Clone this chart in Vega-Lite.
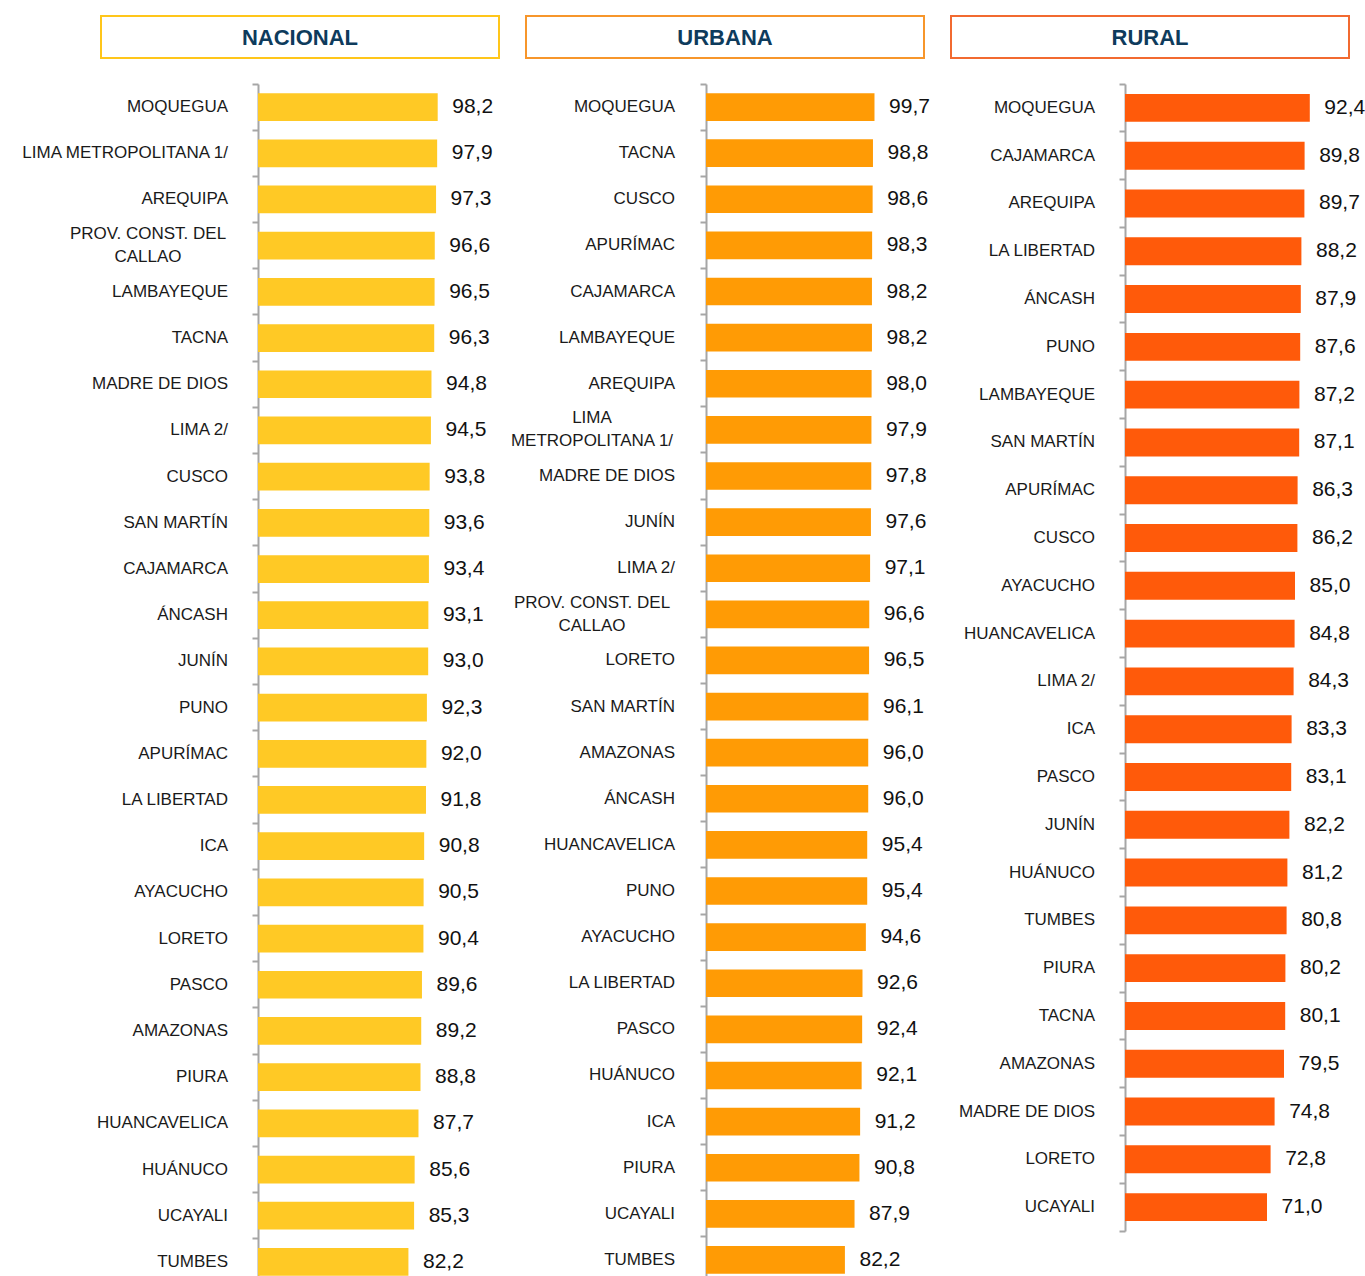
{
  "$schema": "https://vega.github.io/schema/vega-lite/v6.json",
  "padding": {"left": 20, "top": 15, "right": 5, "bottom": 0},
  "config": {
    "view": {"stroke": null},
    "locale": {"number": {"decimal": ",", "thousands": ".", "grouping": [3], "currency": ["", ""]}},
    "text": {"font": "Liberation Sans"}
  },
  "datasets": {
    "nacional": [
      {"dep": "MOQUEGUA", "label": "MOQUEGUA", "valor": 98.2},
      {"dep": "LIMA METROPOLITANA 1/", "label": "LIMA METROPOLITANA 1/", "valor": 97.9},
      {"dep": "AREQUIPA", "label": "AREQUIPA", "valor": 97.3},
      {"dep": "PROV. CONST. DEL CALLAO", "label": "PROV. CONST. DEL\nCALLAO", "valor": 96.6},
      {"dep": "LAMBAYEQUE", "label": "LAMBAYEQUE", "valor": 96.5},
      {"dep": "TACNA", "label": "TACNA", "valor": 96.3},
      {"dep": "MADRE DE DIOS", "label": "MADRE DE DIOS", "valor": 94.8},
      {"dep": "LIMA 2/", "label": "LIMA 2/", "valor": 94.5},
      {"dep": "CUSCO", "label": "CUSCO", "valor": 93.8},
      {"dep": "SAN MARTÍN", "label": "SAN MARTÍN", "valor": 93.6},
      {"dep": "CAJAMARCA", "label": "CAJAMARCA", "valor": 93.4},
      {"dep": "ÁNCASH", "label": "ÁNCASH", "valor": 93.1},
      {"dep": "JUNÍN", "label": "JUNÍN", "valor": 93.0},
      {"dep": "PUNO", "label": "PUNO", "valor": 92.3},
      {"dep": "APURÍMAC", "label": "APURÍMAC", "valor": 92.0},
      {"dep": "LA LIBERTAD", "label": "LA LIBERTAD", "valor": 91.8},
      {"dep": "ICA", "label": "ICA", "valor": 90.8},
      {"dep": "AYACUCHO", "label": "AYACUCHO", "valor": 90.5},
      {"dep": "LORETO", "label": "LORETO", "valor": 90.4},
      {"dep": "PASCO", "label": "PASCO", "valor": 89.6},
      {"dep": "AMAZONAS", "label": "AMAZONAS", "valor": 89.2},
      {"dep": "PIURA", "label": "PIURA", "valor": 88.8},
      {"dep": "HUANCAVELICA", "label": "HUANCAVELICA", "valor": 87.7},
      {"dep": "HUÁNUCO", "label": "HUÁNUCO", "valor": 85.6},
      {"dep": "UCAYALI", "label": "UCAYALI", "valor": 85.3},
      {"dep": "TUMBES", "label": "TUMBES", "valor": 82.2}
    ],
    "urbana": [
      {"dep": "MOQUEGUA", "label": "MOQUEGUA", "valor": 99.7},
      {"dep": "TACNA", "label": "TACNA", "valor": 98.8},
      {"dep": "CUSCO", "label": "CUSCO", "valor": 98.6},
      {"dep": "APURÍMAC", "label": "APURÍMAC", "valor": 98.3},
      {"dep": "CAJAMARCA", "label": "CAJAMARCA", "valor": 98.2},
      {"dep": "LAMBAYEQUE", "label": "LAMBAYEQUE", "valor": 98.2},
      {"dep": "AREQUIPA", "label": "AREQUIPA", "valor": 98.0},
      {"dep": "LIMA METROPOLITANA 1/", "label": "LIMA\nMETROPOLITANA 1/", "valor": 97.9},
      {"dep": "MADRE DE DIOS", "label": "MADRE DE DIOS", "valor": 97.8},
      {"dep": "JUNÍN", "label": "JUNÍN", "valor": 97.6},
      {"dep": "LIMA 2/", "label": "LIMA 2/", "valor": 97.1},
      {"dep": "PROV. CONST. DEL CALLAO", "label": "PROV. CONST. DEL\nCALLAO", "valor": 96.6},
      {"dep": "LORETO", "label": "LORETO", "valor": 96.5},
      {"dep": "SAN MARTÍN", "label": "SAN MARTÍN", "valor": 96.1},
      {"dep": "AMAZONAS", "label": "AMAZONAS", "valor": 96.0},
      {"dep": "ÁNCASH", "label": "ÁNCASH", "valor": 96.0},
      {"dep": "HUANCAVELICA", "label": "HUANCAVELICA", "valor": 95.4},
      {"dep": "PUNO", "label": "PUNO", "valor": 95.4},
      {"dep": "AYACUCHO", "label": "AYACUCHO", "valor": 94.6},
      {"dep": "LA LIBERTAD", "label": "LA LIBERTAD", "valor": 92.6},
      {"dep": "PASCO", "label": "PASCO", "valor": 92.4},
      {"dep": "HUÁNUCO", "label": "HUÁNUCO", "valor": 92.1},
      {"dep": "ICA", "label": "ICA", "valor": 91.2},
      {"dep": "PIURA", "label": "PIURA", "valor": 90.8},
      {"dep": "UCAYALI", "label": "UCAYALI", "valor": 87.9},
      {"dep": "TUMBES", "label": "TUMBES", "valor": 82.2}
    ],
    "rural": [
      {"dep": "MOQUEGUA", "label": "MOQUEGUA", "valor": 92.4},
      {"dep": "CAJAMARCA", "label": "CAJAMARCA", "valor": 89.8},
      {"dep": "AREQUIPA", "label": "AREQUIPA", "valor": 89.7},
      {"dep": "LA LIBERTAD", "label": "LA LIBERTAD", "valor": 88.2},
      {"dep": "ÁNCASH", "label": "ÁNCASH", "valor": 87.9},
      {"dep": "PUNO", "label": "PUNO", "valor": 87.6},
      {"dep": "LAMBAYEQUE", "label": "LAMBAYEQUE", "valor": 87.2},
      {"dep": "SAN MARTÍN", "label": "SAN MARTÍN", "valor": 87.1},
      {"dep": "APURÍMAC", "label": "APURÍMAC", "valor": 86.3},
      {"dep": "CUSCO", "label": "CUSCO", "valor": 86.2},
      {"dep": "AYACUCHO", "label": "AYACUCHO", "valor": 85.0},
      {"dep": "HUANCAVELICA", "label": "HUANCAVELICA", "valor": 84.8},
      {"dep": "LIMA 2/", "label": "LIMA 2/", "valor": 84.3},
      {"dep": "ICA", "label": "ICA", "valor": 83.3},
      {"dep": "PASCO", "label": "PASCO", "valor": 83.1},
      {"dep": "JUNÍN", "label": "JUNÍN", "valor": 82.2},
      {"dep": "HUÁNUCO", "label": "HUÁNUCO", "valor": 81.2},
      {"dep": "TUMBES", "label": "TUMBES", "valor": 80.8},
      {"dep": "PIURA", "label": "PIURA", "valor": 80.2},
      {"dep": "TACNA", "label": "TACNA", "valor": 80.1},
      {"dep": "AMAZONAS", "label": "AMAZONAS", "valor": 79.5},
      {"dep": "MADRE DE DIOS", "label": "MADRE DE DIOS", "valor": 74.8},
      {"dep": "LORETO", "label": "LORETO", "valor": 72.8},
      {"dep": "UCAYALI", "label": "UCAYALI", "valor": 71.0}
    ]
  },
  "spacing": 20,
  "hconcat": [
    {
      "spacing": 10,
      "hconcat": [
        {
          "spacing": 24,
          "vconcat": [
            {
              "width": 398, "height": 42,
              "view": {"stroke": "#FFC61A", "strokeWidth": 2},
              "data": {"values": [{"t": "NACIONAL"}]},
              "mark": {"type": "text", "font": "Liberation Sans", "fontWeight": "bold", "fontSize": 22, "color": "#0E3B5C", "baseline": "middle", "align": "center", "dy": 1},
              "encoding": {"text": {"field": "t"}}
            },
            {
              "bounds": "flush",
              "spacing": 30,
              "hconcat": [
                {
                  "width": 127, "height": 1201,
                  "data": {"name": "nacional"},
                  "encoding": {
                    "y": {"field": "dep", "type": "nominal", "sort": null, "scale": {"paddingInner": 0, "paddingOuter": 0}, "axis": null},
                    "x": {"value": "width"}
                  },
                  "layer": [
                    {"mark": {"type": "text", "align": "right", "baseline": "middle", "fontSize": 17, "color": "#1A1A1A"},
                     "encoding": {"text": {"condition": {"test": "indexof(datum.label, '\\n') >= 0", "value": ""}, "field": "label"}}},
                    {"mark": {"type": "text", "align": "center", "baseline": "middle", "fontSize": 17, "color": "#1A1A1A", "lineBreak": "\n", "lineHeight": 23, "dx": -80, "dy": -11.5},
                     "encoding": {"text": {"condition": {"test": "indexof(datum.label, '\\n') < 0", "value": ""}, "field": "label"}}}
                  ]
                },
                {
                  "width": 241, "height": 1201,
                  "data": {"name": "nacional"},
                  "encoding": {
                    "y": {"field": "dep", "type": "nominal", "sort": null, "scale": {"paddingInner": 0, "paddingOuter": 0},
                      "axis": {"title": null, "labels": false, "domain": true, "ticks": true, "bandPosition": 1, "tickExtra": true, "domainColor": "#A6A6A6", "tickColor": "#A6A6A6", "domainWidth": 2, "tickWidth": 2, "tickSize": 6, "grid": false}},
                    "x": {"field": "valor", "type": "quantitative", "scale": {"domain": [0, 131.7]}, "axis": null}
                  },
                  "layer": [
                    {"mark": {"type": "bar", "color": "#FFC925", "height": {"band": 0.6}}},
                    {"mark": {"type": "text", "align": "center", "baseline": "middle", "dx": 35, "fontSize": 21, "color": "#111111"},
                     "encoding": {"text": {"field": "valor", "type": "quantitative", "format": ".1f"}}}
                  ]
                }
              ]
            }
          ]
        },
        {
          "spacing": 24,
          "vconcat": [
            {
              "width": 398, "height": 42,
              "view": {"stroke": "#F7962B", "strokeWidth": 2},
              "data": {"values": [{"t": "URBANA"}]},
              "mark": {"type": "text", "font": "Liberation Sans", "fontWeight": "bold", "fontSize": 22, "color": "#0E3B5C", "baseline": "middle", "align": "center", "dy": 1},
              "encoding": {"text": {"field": "t"}}
            },
            {
              "bounds": "flush",
              "spacing": 31,
              "hconcat": [
                {
                  "width": 149, "height": 1199,
                  "data": {"name": "urbana"},
                  "encoding": {
                    "y": {"field": "dep", "type": "nominal", "sort": null, "scale": {"paddingInner": 0, "paddingOuter": 0}, "axis": null},
                    "x": {"value": "width"}
                  },
                  "layer": [
                    {"mark": {"type": "text", "align": "right", "baseline": "middle", "fontSize": 17, "color": "#1A1A1A"},
                     "encoding": {"text": {"condition": {"test": "indexof(datum.label, '\\n') >= 0", "value": ""}, "field": "label"}}},
                    {"mark": {"type": "text", "align": "center", "baseline": "middle", "fontSize": 17, "color": "#1A1A1A", "lineBreak": "\n", "lineHeight": 23, "dx": -83, "dy": -11.5},
                     "encoding": {"text": {"condition": {"test": "indexof(datum.label, '\\n') < 0", "value": ""}, "field": "label"}}}
                  ]
                },
                {
                  "width": 218, "height": 1199,
                  "data": {"name": "urbana"},
                  "encoding": {
                    "y": {"field": "dep", "type": "nominal", "sort": null, "scale": {"paddingInner": 0, "paddingOuter": 0},
                      "axis": {"title": null, "labels": false, "domain": true, "ticks": true, "bandPosition": 1, "tickExtra": true, "domainColor": "#A6A6A6", "tickColor": "#A6A6A6", "domainWidth": 2, "tickWidth": 2, "tickSize": 6, "grid": false}},
                    "x": {"field": "valor", "type": "quantitative", "scale": {"domain": [0, 129]}, "axis": null}
                  },
                  "layer": [
                    {"mark": {"type": "bar", "color": "#FF9B05", "height": {"band": 0.6}}},
                    {"mark": {"type": "text", "align": "center", "baseline": "middle", "dx": 35, "fontSize": 21, "color": "#111111"},
                     "encoding": {"text": {"field": "valor", "type": "quantitative", "format": ".1f"}}}
                  ]
                }
              ]
            }
          ]
        }
      ]
    },
    {
      "spacing": 24,
      "vconcat": [
        {
          "width": 398, "height": 42,
          "view": {"stroke": "#F26A30", "strokeWidth": 2},
          "data": {"values": [{"t": "RURAL"}]},
          "mark": {"type": "text", "font": "Liberation Sans", "fontWeight": "bold", "fontSize": 22, "color": "#0E3B5C", "baseline": "middle", "align": "center", "dy": 1},
          "encoding": {"text": {"field": "t"}}
        },
        {
          "bounds": "flush",
          "spacing": 30,
          "hconcat": [
            {
              "width": 144, "height": 1147,
              "data": {"name": "rural"},
              "mark": {"type": "text", "align": "right", "baseline": "middle", "fontSize": 17, "color": "#1A1A1A"},
              "encoding": {
                "y": {"field": "dep", "type": "nominal", "sort": null, "scale": {"paddingInner": 0, "paddingOuter": 0}, "axis": null},
                "x": {"value": "width"},
                "text": {"field": "label"}
              }
            },
            {
              "width": 224, "height": 1147,
              "data": {"name": "rural"},
              "encoding": {
                "y": {"field": "dep", "type": "nominal", "sort": null, "scale": {"paddingInner": 0, "paddingOuter": 0},
                  "axis": {"title": null, "labels": false, "domain": true, "ticks": true, "bandPosition": 1, "tickExtra": true, "domainColor": "#A6A6A6", "tickColor": "#A6A6A6", "domainWidth": 2, "tickWidth": 2, "tickSize": 6, "grid": false}},
                "x": {"field": "valor", "type": "quantitative", "scale": {"domain": [0, 112]}, "axis": null}
              },
              "layer": [
                {"mark": {"type": "bar", "color": "#FF5A0A", "height": {"band": 0.585}}},
                {"mark": {"type": "text", "align": "center", "baseline": "middle", "dx": 35, "fontSize": 21, "color": "#111111"},
                 "encoding": {"text": {"field": "valor", "type": "quantitative", "format": ".1f"}}}
              ]
            }
          ]
        }
      ]
    }
  ]
}
